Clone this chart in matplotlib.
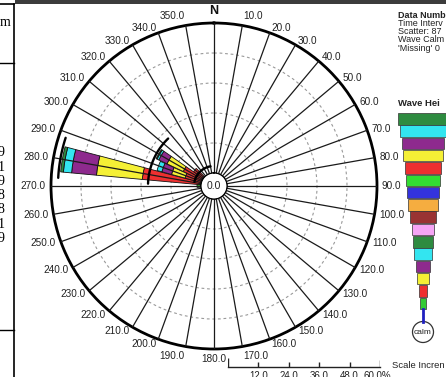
import numpy as np
import matplotlib
matplotlib.use('Agg')
import matplotlib.pyplot as plt
from matplotlib.patches import Rectangle, Circle

plt.rcParams['font.family'] = ['Liberation Sans', 'DejaVu Sans']

# ---------------- data ----------------
directions = [270, 280, 290, 300, 310]
bin_colors = ['#33cc33', '#ee3030', '#f5f035', '#8e2a8e', '#33e5f0', '#2e8b40',
              '#f5a5f5', '#993333', '#f5ad40', '#3333dd', '#33dd33', '#ee3030',
              '#f5f035', '#8e2a8e', '#33e5f0', '#2e8b40']
bin0 = [1.6, 0.5, 0.4, 0.4, 0.3]
bin1 = [0.0, 23.1, 6.4, 8.0, 4.5]
bin2 = [0.0, 18.4, 5.6, 7.2, 0.0]
bin3 = [0.0, 10.0, 4.0, 3.6, 0.0]
bin4 = [0.0, 3.3, 2.0, 0.8, 0.0]
bin5 = [0.0, 1.1, 0.0, 0.4, 0.0]
freq = [bin0, bin1, bin2, bin3, bin4, bin5]
ring_ticks = [12, 24, 36, 48, 60]
dir_ticks = list(range(0, 360, 10))
end_arc_r = [57.2, 21.2, 2.8]
end_arc_from = [273, 272, 282]
end_arc_to = [288, 316, 350]
table_digits = ['9', '1', '9', '8', '8', '1', '9']
info_lines = ["Data Numb", "Time Interv", "Scatter: 87", "Wave Calm", "'Missing' 0"]

W, H = 446, 377
fig = plt.figure(figsize=(W / 100, H / 100), dpi=100)
bg = fig.add_axes([0, 0, 1, 1])
bg.set_xlim(0, W)
bg.set_ylim(H, 0)
bg.axis('off')

# ---------------- rose ----------------
cx, cy, R = 214, 186, 163
ax = fig.add_axes([(cx - R) / W, (H - cy - R) / H, 2 * R / W, 2 * R / H], projection='polar')
ax.set_theta_zero_location('N')
ax.set_theta_direction(-1)
ax.set_ylim(0, 60)
ax.set_rorigin(-5.2)
ax.patch.set_alpha(0)
ax.set_xticks(np.deg2rad(dir_ticks))
ax.set_xticklabels([])
ax.set_yticks(ring_ticks[:-1])
ax.set_yticklabels([])
ax.xaxis.grid(False)
ax.yaxis.grid(True, ls=(0, (2.5, 2.5)), color='#999999', lw=0.8)
ax.spines['polar'].set_linewidth(2)
if 'inner' in ax.spines:
    ax.spines['inner'].set_visible(False)
ax.tick_params(length=0)

theta = np.deg2rad(directions)
width = np.deg2rad(9.5)
cum = np.zeros(len(directions))
for i, row in enumerate(freq):
    row = np.array(row)
    m = row > 0
    ax.bar(theta[m], row[m], width=width, bottom=cum[m], color=bin_colors[i],
           edgecolor='#111', linewidth=0.6, zorder=2)
    cum += row

for d in dir_ticks:
    t = np.deg2rad(d)
    ax.plot([t, t], [0, 60], color='#1a1a1a', lw=0.9, zorder=3)

for r, a0, a1 in zip(end_arc_r, end_arc_from, end_arc_to):
    tt = np.deg2rad(np.linspace(a0, a1, 40))
    ax.plot(tt, np.full_like(tt, r), color='k', lw=1.7, zorder=4, solid_capstyle='round')

tt = np.linspace(0, 2 * np.pi, 200)
ax.fill(tt, np.zeros_like(tt), color='white', zorder=1)
ax.plot(tt, np.zeros_like(tt), color='k', lw=1.0, zorder=5)
ax.text(0.5, 0.5, '0.0', transform=ax.transAxes, ha='center', va='center',
        fontsize=7.5, color='#222', zorder=6)

lab_r = (168 - 13) / 2.5
for d in dir_ticks:
    t = np.deg2rad(d)
    s, c = np.sin(t), np.cos(t)
    ha = 'left' if s > 0.05 else ('right' if s < -0.05 else 'center')
    va = 'bottom' if c > 0.97 else ('top' if c < -0.97 else 'center')
    if d == 0:
        ax.text(t, lab_r + 0.4, 'N', ha='center', va='bottom', fontsize=9,
                fontweight='bold', color='#111', clip_on=False)
    else:
        ax.text(t, lab_r, f"{d:.1f}", ha=ha, va=va, fontsize=7.2, color='#222',
                clip_on=False)

# ---------------- scale bar ----------------
sb = fig.add_axes([228 / W, 0, 152 / W, 22 / H])
sb.set_xlim(0, 60)
sb.set_ylim(377, 355)
sb.axis('off')
sb.plot([0, 60], [367, 367], color='#222', lw=1, clip_on=False)
sb.vlines([0], 358, 367, color='#222', lw=1)
sb.vlines(ring_ticks[:-1], 362, 367, color='#222', lw=1)
sb.vlines([60], 360, 367, color='#222', lw=1)
for v in ring_ticks:
    lab = f"{v:.1f}" + ('%' if v == 60 else '')
    sb.text(v - (1.2 if v == 60 else 0), 371, lab, ha='center', va='top', fontsize=7,
            color='#222', clip_on=False)
bg.text(392, 366, 'Scale Incren', fontsize=6.8, va='center', ha='left', color='#222')

# ---------------- info text ----------------
for i, s in enumerate(info_lines):
    bg.text(398, 15 + i * 8.3, s, fontsize=6.5, va='center', ha='left', color='#222',
            fontweight='bold' if i == 0 else 'normal')
bg.text(398, 103, 'Wave Hei', fontsize=6.8, va='center', ha='left', color='#222',
        fontweight='bold')

# ---------------- legend wedge ----------------
half_w = [25, 23, 21, 20, 18, 17, 16, 15, 13, 11, 10, 9, 7, 6, 4, 3]
lx, ly0, lh = 423, 113, 12.3
for k in range(16):
    col = bin_colors[15 - k]
    hw = half_w[k]
    bg.add_patch(Rectangle((lx - hw, ly0 + k * lh), 2 * hw, lh - 0.8, facecolor=col,
                           edgecolor='#333', lw=0.5))
bg.plot([lx, lx], [ly0 + 16 * lh - 0.5, 322], color='#2020c0', lw=2)
bg.add_patch(Circle((lx, 332), 10.5, facecolor='white', edgecolor='#333', lw=0.9))
bg.text(lx, 332, 'calm', fontsize=6, ha='center', va='center', color='#222')

# ---------------- table fragment / window strip ----------------
bg.add_patch(Rectangle((15, 0), W - 15, 4, facecolor='#3c3c3c', edgecolor='none'))
bg.plot([0, 14], [4, 4], color='k', lw=1.2)
bg.plot([13.5, 13.5], [4, H], color='k', lw=1.2)
bg.plot([0, 13.5], [63, 63], color='k', lw=1.0)
bg.plot([0, 13.5], [330, 330], color='k', lw=1.0)
bg.text(10.5, 23, 'm', fontsize=10, ha='right', va='center', family='Liberation Serif')
for i, dgt in enumerate(table_digits):
    bg.text(4.5, 153 + i * 14.2, dgt, fontsize=10, ha='right', va='center',
            family='Liberation Serif')

fig.savefig('out.png', dpi=100)
